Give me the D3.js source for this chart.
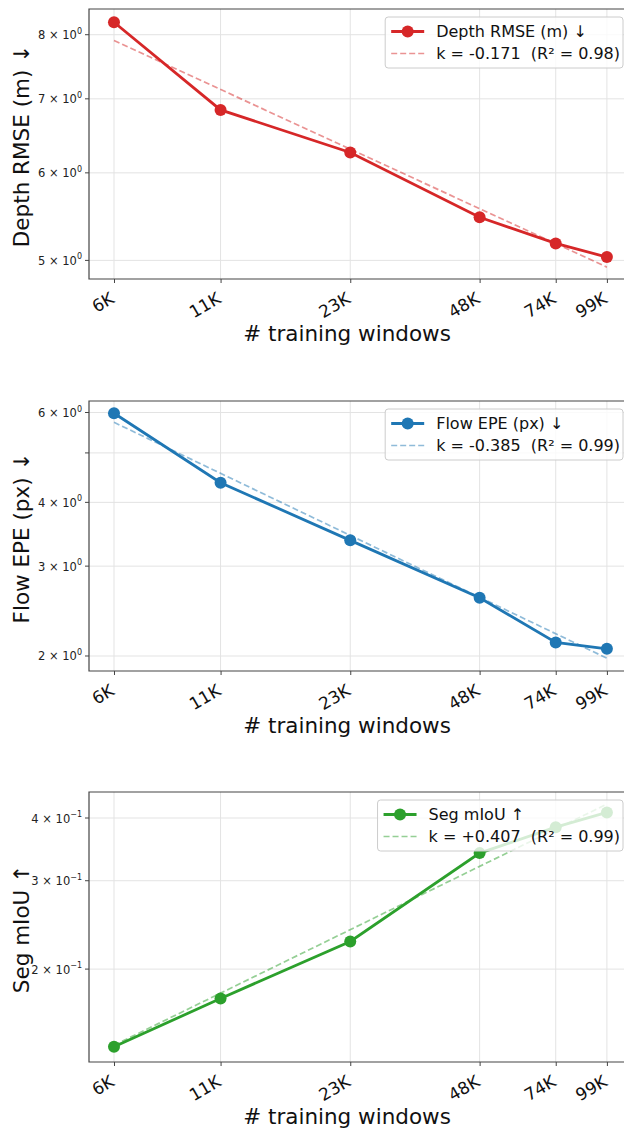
<!DOCTYPE html>
<html>
<head>
<meta charset="utf-8">
<script src="https://cdn.jsdelivr.net/npm/d3@7"></script>
<style>
  html, body { margin: 0; padding: 0; background: #fff; }
  svg { display: block; font-family: "DejaVu Sans", sans-serif; }
</style>
</head>
<body>
<svg id="chart"></svg>
<script>
// scaling panels: depth / flow / seg vs number of training windows (log-log)
const windows = [6000, 11000, 23000, 48000, 74000, 99000];
const windowLabels = ["6K", "11K", "23K", "48K", "74K", "99K"];

const depthRmse = [8.21, 6.84, 6.26, 5.47, 5.18, 5.035];
const flowEpe = [5.98, 4.37, 3.37, 2.60, 2.126, 2.066];
const segMiou = [0.140, 0.1748, 0.227, 0.3405, 0.3836, 0.4104];

// fitted power-law lines, read at the first and last window count
const fitX = [6000, 99000];
const depthFit = [7.905, 4.93];
const flowFit = [5.74, 1.98];
const segFit = [0.141, 0.4264];

const depthTicks = [5, 6, 7, 8];
const flowGrid = [2, 3, 4, 5, 6];
const flowTicks = [2, 3, 4, 6];
const segTicks = [0.2, 0.3, 0.4];

const panels = [
    {
        top: 9, values: depthRmse, fit: depthFit, domain: [4.81, 8.44],
        grid: depthTicks, ticks: depthTicks, exp: "0",
        color: "#d62728", ylabel: "Depth RMSE (m) \u2193",
        legend: ["Depth RMSE (m) \u2193", "k = -0.171  (R\u00b2 = 0.98)"]
    },
    {
        top: 401, values: flowEpe, fit: flowFit, domain: [1.869, 6.32],
        grid: flowGrid, ticks: flowTicks, exp: "0",
        color: "#1f77b4", ylabel: "Flow EPE (px) \u2193",
        legend: ["Flow EPE (px) \u2193", "k = -0.385  (R\u00b2 = 0.99)"]
    },
    {
        top: 792, values: segMiou, fit: segFit, domain: [0.1306, 0.4507],
        grid: segTicks, ticks: segTicks, exp: "\u22121",
        color: "#2ca02c", ylabel: "Seg mIoU \u2191",
        legend: ["Seg mIoU \u2191", "k = +0.407  (R\u00b2 = 0.99)"]
    }
];

const width = 624, height = 1129;
const left = 89, right = 630, panelH = 270;
const spineColor = "#444", gridColor = "#e3e3e3";

const svg = d3.select("#chart").attr("width", width).attr("height", height);

const x = d3.scaleLog().domain([5205, 112900]).range([left, right]);

panels.forEach(function (p) {
    const g = svg.append("g");
    const bottom = p.top + panelH;
    const y = d3.scaleLog().domain(p.domain).range([bottom, p.top]);

    // grid
    g.selectAll(".gx").data(windows).enter().append("line")
        .attr("x1", function (d) { return x(d); }).attr("x2", function (d) { return x(d); })
        .attr("y1", p.top).attr("y2", bottom)
        .attr("stroke", gridColor).attr("stroke-width", 1);
    g.selectAll(".gy").data(p.grid).enter().append("line")
        .attr("x1", left).attr("x2", right)
        .attr("y1", function (d) { return y(d); }).attr("y2", function (d) { return y(d); })
        .attr("stroke", gridColor).attr("stroke-width", 1);

    // fit line
    const fitPts = fitX.map(function (v, i) { return [v, p.fit[i]]; });
    g.append("path")
        .datum(fitPts)
        .attr("d", d3.line().x(function (d) { return x(d[0]); }).y(function (d) { return y(d[1]); }))
        .attr("fill", "none")
        .attr("stroke", p.color)
        .attr("stroke-opacity", 0.5)
        .attr("stroke-width", 1.7)
        .attr("stroke-dasharray", "6,3");

    // data line + markers
    const pts = windows.map(function (v, i) { return [v, p.values[i]]; });
    g.append("path")
        .datum(pts)
        .attr("d", d3.line().x(function (d) { return x(d[0]); }).y(function (d) { return y(d[1]); }))
        .attr("fill", "none")
        .attr("stroke", p.color)
        .attr("stroke-width", 2.8);
    g.selectAll(".pt").data(pts).enter().append("circle")
        .attr("cx", function (d) { return x(d[0]); })
        .attr("cy", function (d) { return y(d[1]); })
        .attr("r", 6)
        .attr("fill", p.color);

    // spines (right one falls outside the picture)
    g.append("path")
        .attr("d", "M" + right + "," + p.top + "H" + left + "V" + bottom + "H" + right)
        .attr("fill", "none")
        .attr("stroke", spineColor)
        .attr("stroke-width", 1.2);

    // x ticks
    const xAxis = d3.axisBottom(x)
        .tickValues(windows)
        .tickSize(4)
        .tickFormat(function (d, i) { return windowLabels[i]; });
    const xg = g.append("g")
        .attr("transform", "translate(0," + bottom + ")")
        .call(xAxis);
    xg.select(".domain").remove();
    xg.selectAll("line").attr("stroke", spineColor);
    xg.selectAll("text")
        .attr("fill", "#111")
        .attr("font-size", "17px")
        .attr("font-family", "DejaVu Sans")
        .attr("text-anchor", "end")
        .attr("dy", null)
        .attr("y", 0)
        .attr("transform", "translate(1,23) rotate(-30)");

    g.append("text")
        .attr("x", (left + 597) / 2 + 4)
        .attr("y", bottom + 62)
        .attr("text-anchor", "middle")
        .attr("font-size", "21.5px")
        .attr("fill", "#111")
        .text("# training windows");

    // y ticks
    g.selectAll(".yt").data(p.grid).enter().append("line")
        .attr("x1", left - 4).attr("x2", left)
        .attr("y1", function (d) { return y(d); }).attr("y2", function (d) { return y(d); })
        .attr("stroke", spineColor);
    const yl = g.selectAll(".yl").data(p.ticks).enter().append("text")
        .attr("x", left - 7)
        .attr("y", function (d) { return y(d) + 4.5; })
        .attr("text-anchor", "end")
        .attr("font-size", "11.5px")
        .attr("fill", "#222");
    yl.append("tspan").text(function (d) {
        const m = p.exp === "0" ? d : Math.round(d * 10);
        return m + " \u00d7 10";
    });
    yl.append("tspan")
        .attr("dy", -5.5)
        .attr("font-size", "8px")
        .text(p.exp);

    g.append("text")
        .attr("transform", "translate(29," + (p.top + panelH / 2 + 2) + ") rotate(-90)")
        .attr("text-anchor", "middle")
        .attr("font-size", "21.5px")
        .attr("fill", "#111")
        .text(p.ylabel);

    // legend
    const lg = g.append("g");
    const box = lg.append("rect");
    const t1 = lg.append("text").attr("font-size", "16px").attr("fill", "#111")
        .style("white-space", "pre").text(p.legend[0]);
    const t2 = lg.append("text").attr("font-size", "16px").attr("fill", "#111")
        .style("white-space", "pre").text(p.legend[1]);
    const tw = Math.max(t1.node().getComputedTextLength(), t2.node().getComputedTextLength());
    const bw = tw + 54;
    const bx = 623 - bw, by = p.top + 8;
    box.attr("x", bx).attr("y", by).attr("width", bw).attr("height", 51)
        .attr("rx", 3)
        .attr("fill", "#fff").attr("fill-opacity", 0.8)
        .attr("stroke", "#ccc");
    const r1 = by + 14.5, r2 = by + 36.5;
    t1.attr("x", bx + 51).attr("y", r1 + 5.5);
    t2.attr("x", bx + 51).attr("y", r2 + 5.5);
    lg.insert("line", "text")
        .attr("x1", bx + 6).attr("x2", bx + 39).attr("y1", r1).attr("y2", r1)
        .attr("stroke", p.color).attr("stroke-width", 2.8);
    lg.insert("circle", "text")
        .attr("cx", bx + 22.5).attr("cy", r1).attr("r", 6).attr("fill", p.color);
    lg.insert("line", "text")
        .attr("x1", bx + 6).attr("x2", bx + 39).attr("y1", r2).attr("y2", r2)
        .attr("stroke", p.color).attr("stroke-opacity", 0.5)
        .attr("stroke-width", 1.7).attr("stroke-dasharray", "6,3");
});
</script>
</body>
</html>
